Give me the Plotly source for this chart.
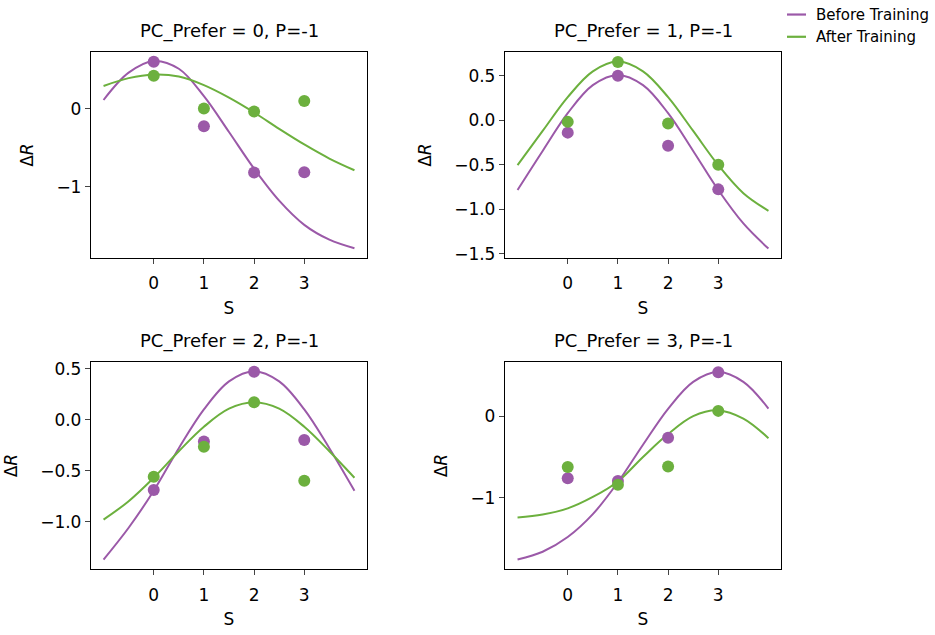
import plotly.graph_objects as go

# ---- data ----
S_points = [0, 1, 2, 3]
S_curve = [-1, -0.5, 0, 0.5, 1, 1.5, 2, 2.5, 3, 3.5, 4]

titles = ["PC_Prefer = 0, P=-1", "PC_Prefer = 1, P=-1",
          "PC_Prefer = 2, P=-1", "PC_Prefer = 3, P=-1"]

before_pts = [
    [0.60, -0.226, -0.82, -0.816],
    [-0.139, 0.50, -0.286, -0.777],
    [-0.69, -0.215, 0.469, -0.20],
    [-0.76, -0.795, -0.265, 0.538],
]
after_pts = [
    [0.42, 0.0, -0.038, 0.096],
    [-0.018, 0.656, -0.037, -0.50],
    [-0.56, -0.267, 0.17, -0.60],
    [-0.622, -0.84, -0.618, 0.064],
]
before_curve = [
    [0.11, 0.46, 0.61, 0.51, 0.16, -0.30, -0.77, -1.18, -1.49, -1.68, -1.79],
    [-0.784, -0.345, 0.08, 0.395, 0.51, 0.395, 0.08, -0.345, -0.784, -1.16, -1.443],
    [-1.372, -1.06, -0.697, -0.28, 0.10, 0.375, 0.475, 0.375, 0.10, -0.28, -0.697],
    [-1.755, -1.66, -1.48, -1.20, -0.81, -0.35, 0.09, 0.42, 0.54, 0.42, 0.092],
]
after_curve = [
    [0.29, 0.39, 0.435, 0.41, 0.30, 0.14, -0.05, -0.26, -0.46, -0.64, -0.79],
    [-0.505, -0.12, 0.26, 0.55, 0.66, 0.55, 0.26, -0.12, -0.505, -0.82, -1.018],
    [-0.98, -0.80, -0.57, -0.31, -0.07, 0.107, 0.17, 0.107, -0.07, -0.31, -0.57],
    [-1.24, -1.205, -1.13, -0.99, -0.80, -0.50, -0.22, 0.0, 0.07, -0.03, -0.27],
]
y_ranges = [[-1.914, 0.722], [-1.548, 0.765], [-1.464, 0.562], [-1.871, 0.659]]
y_ticks = [[-1, 0], [-1.5, -1.0, -0.5, 0.0, 0.5], [-1.0, -0.5, 0.0, 0.5], [-1, 0]]
y_ticktext = [["\u22121", "0"],
              ["\u22121.5", "\u22121.0", "\u22120.5", "0.0", "0.5"],
              ["\u22121.0", "\u22120.5", "0.0", "0.5"],
              ["\u22121", "0"]]
legend_names = ["Before Training", "After Training"]

# ---- style ----
W, H = 935, 635
PURPLE = "#9b59a8"
GREEN = "#6cb03e"
FONT = "DejaVu Sans"

# panel pixel boxes (left, right, top, bottom)
boxes = [(91, 367, 49, 258), (505, 781, 49, 258),
         (91, 367, 364, 574), (505, 781, 364, 574)]

fig = go.Figure()
layout = dict(
    width=W, height=H,
    margin=dict(l=0, r=0, t=0, b=0),
    paper_bgcolor="white", plot_bgcolor="white",
    font=dict(family=FONT, size=17, color="black"),
    showlegend=False,
    annotations=[],
    shapes=[],
)

for i in range(4):
    l, r, t, b = boxes[i]
    ax = "" if i == 0 else str(i + 1)
    xa = "x" + ax
    ya = "y" + ax
    layout["xaxis" + ax] = dict(
        domain=[l / W, r / W], anchor=ya, range=[-1.25, 4.25],
        tickvals=S_points, ticks="outside", ticklen=5, tickwidth=1.2,
        ticklabelstandoff=5,
        showline=True, linecolor="black", linewidth=1.3, mirror=True,
        showgrid=False, zeroline=False,
        tickfont=dict(size=17),
        title=dict(text="S", font=dict(size=17), standoff=9),
    )
    layout["yaxis" + ax] = dict(
        domain=[1 - b / H, 1 - t / H], anchor=xa, range=y_ranges[i],
        tickvals=y_ticks[i], ticktext=y_ticktext[i],
        ticks="outside", ticklen=5, tickwidth=1.2,
        showline=True, linecolor="black", linewidth=1.3, mirror=True,
        showgrid=False, zeroline=False,
        tickfont=dict(size=17),
        title=dict(text="\u0394<i>R</i>", font=dict(size=17), standoff=18),
    )
    layout["annotations"].append(dict(
        text=titles[i], x=(l + r) / 2 / W, y=1 - (t - 8) / H,
        xref="paper", yref="paper", xanchor="center", yanchor="bottom",
        showarrow=False, font=dict(size=18),
    ))

    fig.add_trace(go.Scatter(
        x=S_curve, y=before_curve[i], mode="lines", line_shape="spline",
        line=dict(color=PURPLE, width=2), name=legend_names[0],
        xaxis=xa, yaxis=ya))
    fig.add_trace(go.Scatter(
        x=S_curve, y=after_curve[i], mode="lines", line_shape="spline",
        line=dict(color=GREEN, width=2), name=legend_names[1],
        xaxis=xa, yaxis=ya))
    fig.add_trace(go.Scatter(
        x=S_points, y=before_pts[i], mode="markers", name=legend_names[0],
        marker=dict(color=PURPLE, size=12, line=dict(width=0)),
        xaxis=xa, yaxis=ya))
    fig.add_trace(go.Scatter(
        x=S_points, y=after_pts[i], mode="markers", name=legend_names[1],
        marker=dict(color=GREEN, size=12, line=dict(width=0)),
        xaxis=xa, yaxis=ya))

# legend (top right, outside the panels)
leg_y = [10.7, 33.3]
leg_col = [PURPLE, GREEN]
for k in range(2):
    yy = 1 - leg_y[k] / H
    layout["shapes"].append(dict(
        type="line", xref="paper", yref="paper",
        x0=787 / W, x1=806 / W, y0=yy, y1=yy,
        line=dict(color=leg_col[k], width=2.2)))
    layout["annotations"].append(dict(
        text=legend_names[k], x=814 / W, y=yy, xref="paper", yref="paper",
        xanchor="left", yanchor="middle", showarrow=False,
        font=dict(size=15)))

fig.update_layout(**layout)
fig.write_html(
    "out.html",
    config={"displayModeBar": False},
    post_script="document.body.style.margin='0';document.body.style.overflow='hidden';",
)
